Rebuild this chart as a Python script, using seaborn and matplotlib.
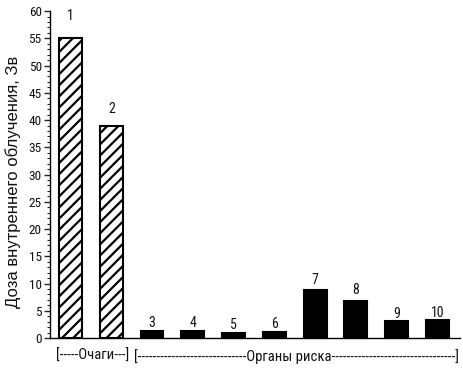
import matplotlib
matplotlib.use("Agg")
import matplotlib.pyplot as plt
import seaborn as sns
import pandas as pd
from matplotlib.ticker import MultipleLocator
import matplotlib.transforms as mtransforms

categories = ["1", "2", "3", "4", "5", "6", "7", "8", "9", "10"]
values = [55, 39, 1.3, 1.3, 0.85, 1.05, 8.9, 6.8, 3.2, 3.3]
groups = ["Очаги", "Очаги"] + ["Органы риска"] * 8
ylabel = "Доза внутреннего облучения, Зв"
group_label_1 = "[-----Очаги---]"
group_label_2 = "[" + "-" * 29 + "Органы риска" + "-" * 33 + "]"

df = pd.DataFrame({"cat": categories, "val": values, "grp": groups})

sns.set_style("white")
narrow = ["Roboto Condensed", "Carlito", "DejaVu Sans"]
plt.rcParams["hatch.linewidth"] = 1.6

fig = plt.figure(figsize=(4.64, 3.83), dpi=100)
ax = fig.add_axes([0.108, 0.1175, 0.883, 0.8535])

palette = ["white" if g == "Очаги" else "black" for g in groups]
sns.barplot(data=df, x="cat", y="val", hue="cat", palette=palette,
            legend=False, width=0.56, edgecolor="black", linewidth=1.5,
            ax=ax, saturation=1)

pads = [11, 7, 1, 1, 1, 1, 2, 3, 0, 0]
for i, cont in enumerate(ax.containers):
    for p in cont.patches:
        if groups[i] == "Очаги":
            p.set_hatch("///")
    ax.bar_label(cont, labels=[categories[i]], padding=pads[i],
                 fontsize=10, family=narrow, color="#111111")

ax.set_ylim(0, 60)
ax.set_xlim(-0.5, 9.55)
ax.yaxis.set_major_locator(MultipleLocator(5))
ax.yaxis.set_minor_locator(MultipleLocator(1))
ax.tick_params(axis="y", which="major", left=True, length=4, width=1,
               direction="out", labelsize=9.5, pad=2, labelcolor="#111111")
ax.tick_params(axis="y", which="minor", left=True, length=2, width=0.8,
               direction="out")
for lab in ax.get_yticklabels():
    lab.set_family(narrow)
ax.set_xticks([])
ax.set_xlabel("")
ax.set_ylabel(ylabel, fontsize=12, family=["Liberation Sans", "DejaVu Sans"],
              color="#111111")
ax.yaxis.set_label_coords(-0.072, 0.477)
for s in ["top", "right"]:
    ax.spines[s].set_visible(False)
for s in ["left", "bottom"]:
    ax.spines[s].set_color("black")
    ax.spines[s].set_linewidth(1.0)

trans = mtransforms.blended_transform_factory(ax.transData, ax.transAxes)
ax.text(0.54, -0.056, group_label_1, transform=trans, ha="center", va="center",
        fontsize=10.5, family=narrow, color="#111111")
ax.text(5.55, -0.056, group_label_2, transform=trans, ha="center", va="center",
        fontsize=10.5, family=narrow, color="#111111")

fig.savefig("out.png", dpi=100)
